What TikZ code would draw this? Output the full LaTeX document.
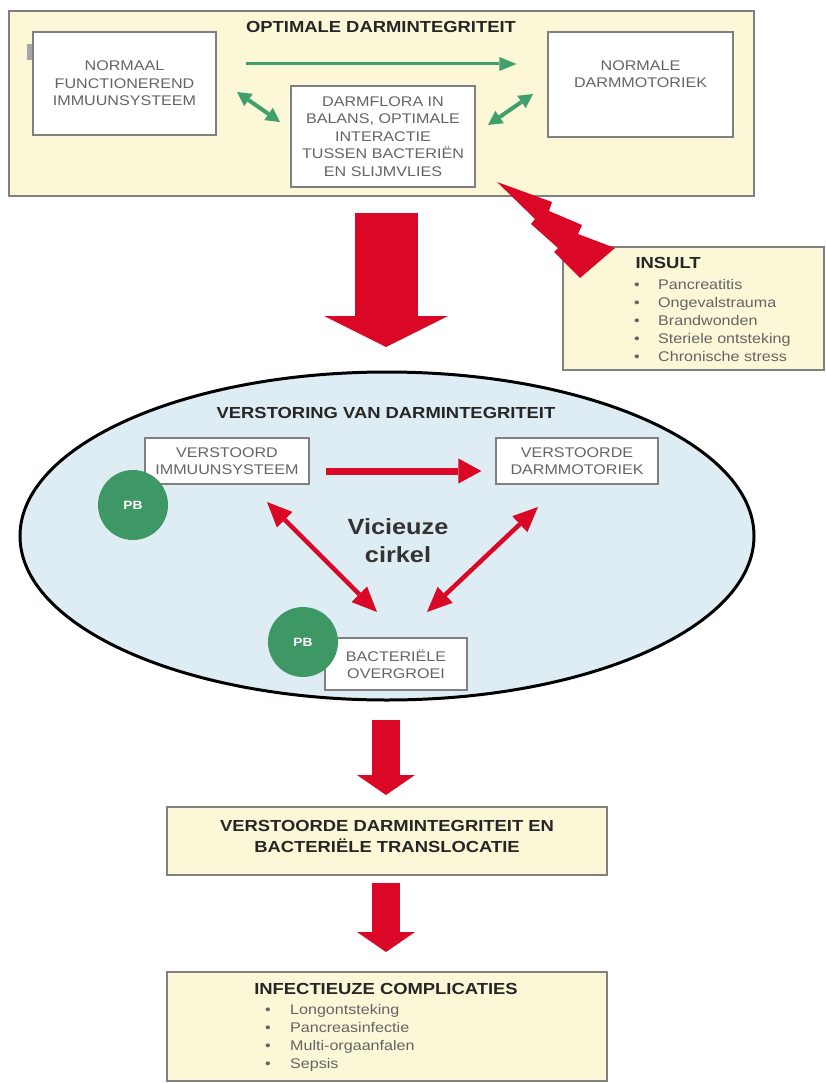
\documentclass[tikz,border=0pt]{standalone}
\usepackage{fontspec}
\setmainfont{Liberation Sans}
\newfontfamily\widefont[FakeStretch=1.15]{Liberation Sans}
\usetikzlibrary{shapes.geometric, arrows.meta}
\definecolor{panelyellow}{RGB}{252,247,214}
\definecolor{boxgray}{RGB}{128,128,128}
\definecolor{textgray}{RGB}{100,100,100}
\definecolor{gutblue}{RGB}{222,237,244}
\definecolor{pbgreen}{RGB}{62,152,102}
\definecolor{arrowgreen}{RGB}{64,160,108}
\definecolor{alarmred}{RGB}{218,8,38}
\newcommand{\bulitem}[2][24pt]{\makebox[#1][l]{\textbullet}#2}
\tikzset{
  panel/.style={draw=boxgray, line width=1.5pt, fill=panelyellow, inner sep=0pt},
  wbox/.style={draw=boxgray, line width=1.2pt, fill=white, inner sep=0pt, text=textgray,
    align=center, font=\widefont\fontsize{14}{17.5}\selectfont},
  headtext/.style={font=\widefont\bfseries\fontsize{16}{21}\selectfont, align=center, text=black!85},
  listtext/.style={text=textgray, font=\widefont\fontsize{14}{18}\selectfont, inner sep=0pt},
  pb/.style={circle, fill=pbgreen, minimum size=70pt, inner sep=0pt, text=white,
    font=\widefont\bfseries\fontsize{12}{12}\selectfont},
  greenarrow/.style={draw=arrowgreen, line width=3pt, -{Triangle[length=17pt,width=14pt,line width=0pt]}},
  greendouble/.style={draw=arrowgreen, line width=4pt,
    {Triangle[length=14pt,width=15pt,line width=0pt]}-{Triangle[length=14pt,width=15pt,line width=0pt]}},
  redarrow/.style={draw=alarmred, line width=7pt, -{Triangle[length=23pt,width=25pt,line width=0pt]}},
  reddouble/.style={draw=alarmred, line width=4.5pt,
    {Triangle[length=25pt,width=22pt,line width=0pt]}-{Triangle[length=25pt,width=22pt,line width=0pt]}},
  blockarrow/.style={draw=alarmred, line width=63pt, -{Triangle[length=31pt,width=124pt,line width=0pt]}},
  smallblock/.style={draw=alarmred, line width=28pt, -{Triangle[length=20pt,width=58pt,line width=0pt]}}
}

\begin{document}
\begin{tikzpicture}[x=1pt, y=-1pt]
  \useasboundingbox (0,0) rectangle (825,1083);
  % optimal gut integrity
  \node[panel, minimum width=745pt, minimum height=185pt] (optimal) at (381.5,103.5) {};
  \node[headtext] (optitle) at (381,27) {OPTIMALE DARMINTEGRITEIT};
  \fill[boxgray!70] (27,44) rectangle (33,60);
  \node[wbox, minimum width=183pt, minimum height=103pt] (immuun) at (124.5,83.5)
    {NORMAAL\\FUNCTIONEREND\\IMMUUNSYSTEEM};
  \node[wbox, minimum width=184pt, minimum height=101pt] (flora) at (383,136.5)
    {DARMFLORA IN\\BALANS, OPTIMALE\\INTERACTIE\\TUSSEN BACTERIËN\\EN SLIJMVLIES};
  \node[wbox, minimum width=185pt, minimum height=105pt] (motor) at (640.5,84.5) {};
  \node[wbox, draw=none, fill=none] (motortext) at (640.5,74) {NORMALE\\DARMMOTORIEK};
  % green arrows
  \coordinate (ga1) at (237,92);
  \coordinate (ga2) at (280,122);
  \coordinate (gb1) at (488,125);
  \coordinate (gb2) at (533,94);
  \draw[greenarrow, shorten <=29pt, shorten >=31pt] ([yshift=19.5pt]immuun.east) -- ([yshift=20.5pt]motor.west);
  \draw[greendouble] (ga1) -- (ga2);
  \draw[greendouble] (gb1) -- (gb2);
  % insult
  \node[panel, minimum width=261pt, minimum height=123pt] (insult) at (693.5,308.5) {};
  \node[headtext, anchor=west] (insulttitle) at (632,263) {INSULT};
  \foreach \entry [count=\i] in {Pancreatitis, Ongevalstrauma, Brandwonden, Steriele ontsteking, Chronische stress}
    \node[listtext, anchor=base west] (ins\i) at (634,271+18*\i) {\bulitem{\entry}};
  \fill[alarmred] (497,182) -- (552,202) -- (549,211) -- (582,225) -- (578,234) -- (615,248)
    -- (580,278) -- (554,252) -- (558,248) -- (531,224) -- (535,219) -- cycle;
  % big arrow
  \coordinate (big1) at (386,213);
  \coordinate (big2) at (386,347);
  \draw[blockarrow] (big1) -- (big2);
  % disturbed gut integrity
  \node[ellipse, draw=black, line width=3pt, fill=gutblue, minimum width=734pt, minimum height=328pt,
    inner sep=0pt] (cycle) at (387,536) {};
  \node[headtext] (cycletitle) at (386,413) {VERSTORING VAN DARMINTEGRITEIT};
  \node[wbox, minimum width=164pt, minimum height=46pt] (vimm) at (227,461) {VERSTOORD\\IMMUUNSYSTEEM};
  \node[wbox, minimum width=162pt, minimum height=46pt] (vmot) at (577,461) {VERSTOORDE\\DARMMOTORIEK};
  \node[wbox, minimum width=142pt, minimum height=52pt] (growth) at (396,664) {BACTERIËLE\\OVERGROEI};
  \node[pb] (pb1) at (133,505) {PB};
  \node[pb] (pb2) at (303,642) {PB};
  \node[font=\widefont\bfseries\fontsize{22}{28}\selectfont, align=center, text=black!80] (vicious)
    at (398,541) {Vicieuze\\cirkel};
  % red arrows
  \coordinate (ra1) at (267,502);
  \coordinate (ra2) at (377,612);
  \coordinate (rb1) at (538,507);
  \coordinate (rb2) at (427,612);
  \draw[redarrow, shorten <=16pt, shorten >=14pt] ([yshift=-10pt]vimm.east) -- ([yshift=-10pt]vmot.west);
  \draw[reddouble] (ra1) -- (ra2);
  \draw[reddouble] (rb1) -- (rb2);
  % consequences
  \coordinate (down1) at (386,720);
  \coordinate (down2) at (386,795);
  \coordinate (down3) at (386,883);
  \coordinate (down4) at (386,952);
  \draw[smallblock] (down1) -- (down2);
  \node[panel, minimum width=440pt, minimum height=68pt] (transloc) at (387,841) {};
  \node[headtext] (transloctext) at (387,836) {VERSTOORDE DARMINTEGRITEIT EN\\BACTERIËLE TRANSLOCATIE};
  \draw[smallblock] (down3) -- (down4);
  \node[panel, minimum width=440pt, minimum height=109pt] (infect) at (387,1026.5) {};
  \node[headtext] (infecttitle) at (386,989) {INFECTIEUZE COMPLICATIES};
  \foreach \entry [count=\i] in {Longontsteking, Pancreasinfectie, Multi-orgaanfalen, Sepsis}
    \node[listtext, anchor=base west] (inf\i) at (265,996+18*\i) {\bulitem[25pt]{\entry}};
\end{tikzpicture}
\end{document}
